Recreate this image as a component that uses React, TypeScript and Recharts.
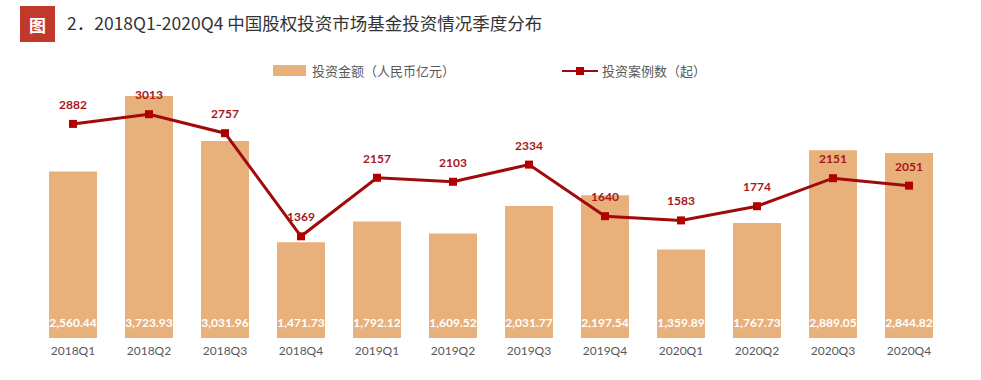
import { ComposedChart, Bar, Line, XAxis, YAxis, LabelList, Legend } from "recharts";

const QUARTERS = [
  "2018Q1", "2018Q2", "2018Q3", "2018Q4",
  "2019Q1", "2019Q2", "2019Q3", "2019Q4",
  "2020Q1", "2020Q2", "2020Q3", "2020Q4",
];
const AMOUNTS = [
  2560.44, 3723.93, 3031.96, 1471.73, 1792.12, 1609.52,
  2031.77, 2197.54, 1359.89, 1767.73, 2889.05, 2844.82,
];
const CASES = [2882, 3013, 2757, 1369, 2157, 2103, 2334, 1640, 1583, 1774, 2151, 2051];

const BAR = "#E8B07A";
const RED = "#A00A0A";
const MARK = "#B00000";
const LABEL_RED = "#A8161B";
const GREY = "#595959";
const CJK = '"Noto Sans CJK SC", "Noto Sans", sans-serif';
const NUM = 'Lato, "Open Sans", sans-serif';

const data = QUARTERS.map((q, i) => ({ q, amount: AMOUNTS[i], cases: CASES[i] }));

function BarValue(props: any) {
  const { x, y, width, height, value } = props;
  return (
    <text
      x={x + width / 2}
      y={y + height - 11}
      textAnchor="middle"
      style={{ fontFamily: NUM, fontSize: 12, fontWeight: 700, fill: "#fff" }}
    >
      {Number(value).toLocaleString("en-US", { minimumFractionDigits: 2 })}
    </text>
  );
}

function LineValue(props: any) {
  const { x, y, value } = props;
  return (
    <text
      x={x}
      y={y - 15}
      textAnchor="middle"
      style={{ fontFamily: NUM, fontSize: 12, fontWeight: 700, fill: LABEL_RED }}
    >
      {value}
    </text>
  );
}

function Square(props: any) {
  const { cx, cy } = props;
  if (cx == null || cy == null) return null;
  return <rect x={cx - 4} y={cy - 4} width={8} height={8} fill={MARK} />;
}

function LegendBox() {
  const txt = { fontFamily: CJK, fontSize: 13, color: GREY };
  return (
    <div style={{ position: "relative", height: 20 }}>
      <div style={{ position: "absolute", left: 273, top: 4, width: 33, height: 11, background: BAR }} />
      <div style={{ ...txt, position: "absolute", left: 312, top: 0 }}>投资金额（人民币亿元）</div>
      <svg style={{ position: "absolute", left: 562, top: 2 }} width={36} height={16}>
        <line x1={0} y1={8} x2={36} y2={8} stroke={RED} strokeWidth={2} />
        <rect x={14} y={4} width={8} height={8} fill={MARK} />
      </svg>
      <div style={{ ...txt, position: "absolute", left: 602, top: 0 }}>投资案例数（起）</div>
    </div>
  );
}

export default function App() {
  return (
    <div style={{ position: "absolute", left: 0, top: 0, width: 981, height: 380, background: "#fff" }}>
      <div
        style={{
          position: "absolute", left: 20, top: 6, width: 35, height: 36, background: "#C0392B",
          color: "#fff", fontFamily: CJK, fontSize: 17, fontWeight: 700,
          display: "flex", alignItems: "center", justifyContent: "center",
        }}
      >
        图
      </div>
      <div style={{ position: "absolute", left: 67, top: 10, fontFamily: CJK, fontSize: 17.5, color: "#333" }}>
        2．2018Q1-2020Q4 中国股权投资市场基金投资情况季度分布
      </div>
      <ComposedChart
        width={981}
        height={380}
        data={data}
        margin={{ top: 58, right: 34, left: 35, bottom: 12 }}
        barCategoryGap={14}
      >
        <XAxis
          dataKey="q"
          height={30}
          axisLine={false}
          tickLine={false}
          tick={{ fontFamily: NUM, fontSize: 12, fill: GREY }}
          interval={0}
        />
        <YAxis yAxisId="l" domain={[0, 4000]} hide />
        <YAxis yAxisId="r" orientation="right" domain={[0, 3500]} hide />
        <Legend
          verticalAlign="top"
          wrapperStyle={{ top: 61, left: 0, width: 981 }}
          content={() => <LegendBox />}
        />
        <Bar yAxisId="l" dataKey="amount" fill={BAR} isAnimationActive={false}>
          <LabelList dataKey="amount" content={<BarValue />} />
        </Bar>
        <Line
          yAxisId="r"
          dataKey="cases"
          stroke={RED}
          strokeWidth={3}
          dot={<Square />}
          activeDot={false}
          isAnimationActive={false}
        >
          <LabelList dataKey="cases" content={<LineValue />} />
        </Line>
      </ComposedChart>
    </div>
  );
}
